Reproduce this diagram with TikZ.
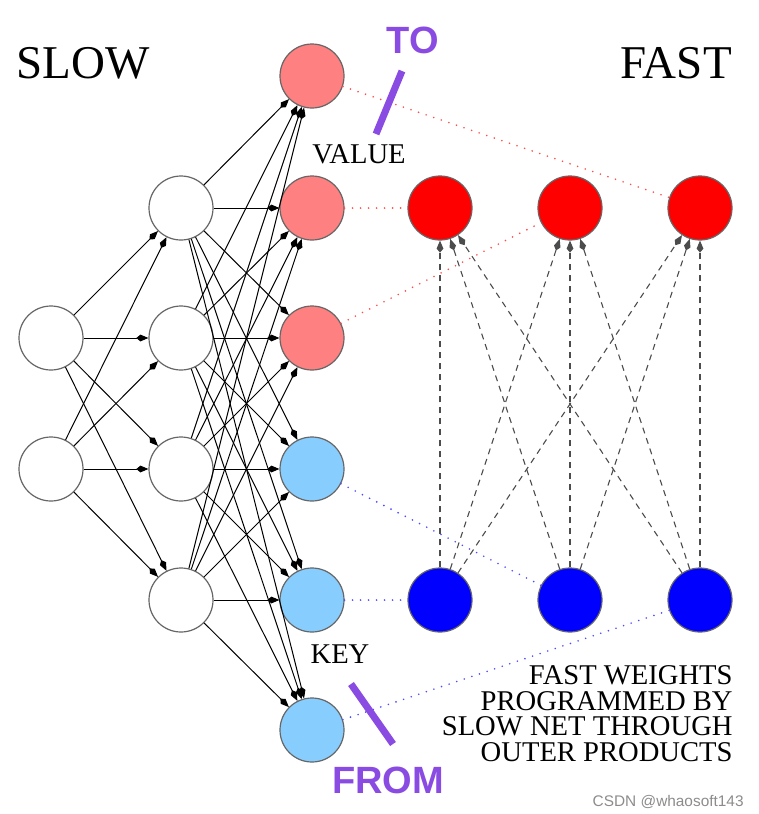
\documentclass[tikz,border=0pt]{standalone}
\usepackage{fontspec}
\setmainfont{Liberation Serif}
\newfontfamily\annofont{Liberation Sans}
\usetikzlibrary{arrows.meta}
\definecolor{pinkred}{HTML}{FF8080}
\definecolor{ltblue}{HTML}{87CEFF}
\definecolor{annopurple}{HTML}{8A4BE3}
\tikzset{
  unit/.style={draw=black!60,circle,minimum size=32pt,inner sep=0pt,line width=0.6pt},
  hid/.style={unit,fill=white},
  val/.style={unit,fill=pinkred},
  key/.style={unit,fill=ltblue},
  fval/.style={unit,fill=red},
  fkey/.style={unit,fill=blue},
  arr/.style={-{Kite[length=6pt,width=3.4pt,inset=2pt]},line width=0.5pt},
  darr/.style={-{Kite[length=6pt,width=3.4pt,inset=2pt]},line width=0.55pt,black!70,dash pattern=on 3pt off 2.5pt},
  rdot/.style={red!70,line width=0.9pt,line cap=round,dash pattern=on 0pt off 4pt},
  bdot/.style={blue!70,line width=0.9pt,line cap=round,dash pattern=on 0pt off 4pt},
  pline/.style={annopurple,line width=3.5pt},
  big/.style={font=\fontsize{23.5pt}{26pt}\selectfont,inner sep=0pt},
  lbl/.style={font=\fontsize{14.3pt}{12.9pt}\selectfont,inner sep=0pt},
  anno/.style={font=\annofont\bfseries\fontsize{19pt}{21pt}\selectfont,text=annopurple,inner sep=0pt}
}
\begin{document}
\begin{tikzpicture}[x=0.5pt,y=-0.5pt]
\useasboundingbox (0,0) rectangle (759,814);
% slow net
\node[hid] (in1) at (51,338) {}; \node[hid] (in2) at (51,469) {};
\node[hid] (h1) at (181,208) {}; \node[hid] (h2) at (181,338) {};
\node[hid] (h3) at (181,469) {}; \node[hid] (h4) at (181,600) {};
\node[val] (v1) at (312,76) {}; \node[val] (v2) at (312,208) {}; \node[val] (v3) at (312,338) {};
\node[key] (k1) at (312,469) {}; \node[key] (k2) at (312,600) {}; \node[key] (k3) at (312,730) {};
% fast net
\node[fval] (fv1) at (440,208) {}; \node[fval] (fv2) at (570,208) {}; \node[fval] (fv3) at (700,208) {};
\node[fkey] (fk1) at (440,600) {}; \node[fkey] (fk2) at (570,600) {}; \node[fkey] (fk3) at (700,600) {};
\draw[arr] (in1)--(h1); \draw[arr] (in1)--(h2); \draw[arr] (in1)--(h3); \draw[arr] (in1)--(h4);
\draw[arr] (in2)--(h1); \draw[arr] (in2)--(h2); \draw[arr] (in2)--(h3); \draw[arr] (in2)--(h4);
\draw[arr] (h1)--(v1); \draw[arr] (h1)--(v2); \draw[arr] (h1)--(v3); \draw[arr] (h1)--(k1); \draw[arr] (h1)--(k2); \draw[arr] (h1)--(k3);
\draw[arr] (h2)--(v1); \draw[arr] (h2)--(v2); \draw[arr] (h2)--(v3); \draw[arr] (h2)--(k1); \draw[arr] (h2)--(k2); \draw[arr] (h2)--(k3);
\draw[arr] (h3)--(v1); \draw[arr] (h3)--(v2); \draw[arr] (h3)--(v3); \draw[arr] (h3)--(k1); \draw[arr] (h3)--(k2); \draw[arr] (h3)--(k3);
\draw[arr] (h4)--(v1); \draw[arr] (h4)--(v2); \draw[arr] (h4)--(v3); \draw[arr] (h4)--(k1); \draw[arr] (h4)--(k2); \draw[arr] (h4)--(k3);
\draw[rdot] (v1)--(fv3); \draw[rdot] (v2)--(fv1); \draw[rdot] (v3)--(fv2);
\draw[bdot] (k1)--(fk2); \draw[bdot] (k2)--(fk1); \draw[bdot] (k3)--(fk3);
\draw[darr] (fk1)--(fv1); \draw[darr] (fk1)--(fv2); \draw[darr] (fk1)--(fv3);
\draw[darr] (fk2)--(fv1); \draw[darr] (fk2)--(fv2); \draw[darr] (fk2)--(fv3);
\draw[darr] (fk3)--(fv1); \draw[darr] (fk3)--(fv2); \draw[darr] (fk3)--(fv3);
% labels
\node[big,anchor=base] (slow) at (83,78) {SLOW};
\node[big,anchor=base] (fast) at (676,78) {FAST};
\node[lbl,anchor=base] (value) at (359,163) {VALUE};
\node[lbl,anchor=base] (keylbl) at (340,663) {KEY};
\node[lbl,anchor=north east,align=right] (note) at (733,665) {FAST WEIGHTS\\PROGRAMMED BY\\SLOW NET THROUGH\\OUTER PRODUCTS};
% annotations
\node[anno,anchor=base] (to) at (413,53) {TO};
\node[anno,anchor=base] (from) at (388,793) {FROM};
\coordinate (ta) at (402,71); \coordinate (tb) at (376,134);
\coordinate (fa) at (351,684); \coordinate (fb) at (393,744);
\draw[pline] (ta)--(tb); \draw[pline] (fa)--(fb);
\node[font=\annofont\fontsize{7.7pt}{9pt}\selectfont,text=black!45,anchor=base east,inner sep=0pt] (mark1) at (744,806) {CSDN @whaosoft143};
\end{tikzpicture}
\end{document}
